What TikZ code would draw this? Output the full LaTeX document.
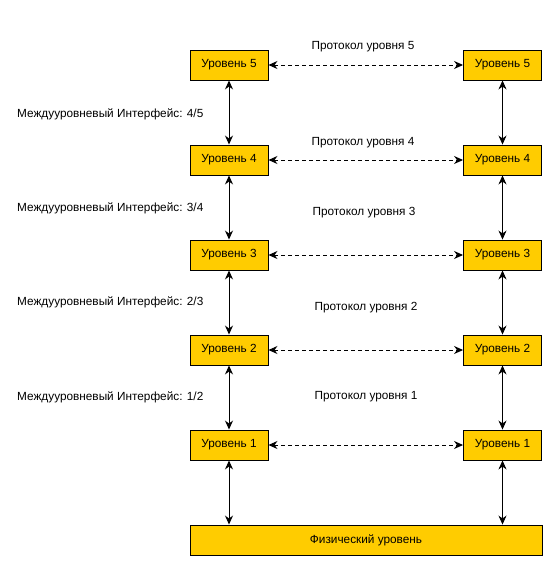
\documentclass[tikz,border=0pt]{standalone}
\usepackage{fontspec}
\setmainfont{Liberation Sans}
\usetikzlibrary{arrows.meta}
\definecolor{boxfill}{HTML}{FFCC00}
\tikzset{
  lvl/.style={draw=black, line width=0.9pt, fill=boxfill, minimum width=78pt, minimum height=30pt, inner sep=0pt, font=\fontsize{11.8pt}{14pt}\selectfont},
  lbl/.style={inner sep=0pt, font=\fontsize{11.8pt}{14pt}\selectfont},
  iface/.style={line width=0.9pt, {Stealth[length=9pt,width=8pt]}-{Stealth[length=9pt,width=8pt]}},
  proto/.style={iface, dash pattern=on 4pt off 3pt}
}
\begin{document}
\begin{tikzpicture}[x=1pt,y=-1pt]
\useasboundingbox (0,0) rectangle (556,570);
\foreach \i/\yy in {5/65,4/160,3/255,2/350,1/445}{
  \node[lvl] (L\i) at (229,\yy) {Уровень \i};
  \node[lvl] (R\i) at (502.5,\yy) {Уровень \i};
  \draw[proto] (L\i) -- (R\i);
}
\node[lvl, minimum width=352pt] (phys) at (366,540) {Физический уровень};
\foreach \a/\b in {5/4,4/3,3/2,2/1}{
  \draw[iface] (L\a) -- (L\b);
  \draw[iface] (R\a) -- (R\b);
}
\draw[iface] (L1) -- (L1 |- phys.north);
\draw[iface] (R1) -- (R1 |- phys.north);
\node[lbl] (p5) at (363,47) {Протокол уровня 5};
\node[lbl] (p4) at (363,143) {Протокол уровня 4};
\node[lbl] (p3) at (364,213) {Протокол уровня 3};
\node[lbl] (p2) at (366,308) {Протокол уровня 2};
\node[lbl] (p1) at (366,397) {Протокол уровня 1};
\node[lbl, anchor=west] (i45) at (17,114) {Междууровневый Интерфейс: 4/5};
\node[lbl, anchor=west] (i34) at (17,208) {Междууровневый Интерфейс: 3/4};
\node[lbl, anchor=west] (i23) at (17,302) {Междууровневый Интерфейс: 2/3};
\node[lbl, anchor=west] (i12) at (17,397) {Междууровневый Интерфейс: 1/2};
\end{tikzpicture}
\end{document}
